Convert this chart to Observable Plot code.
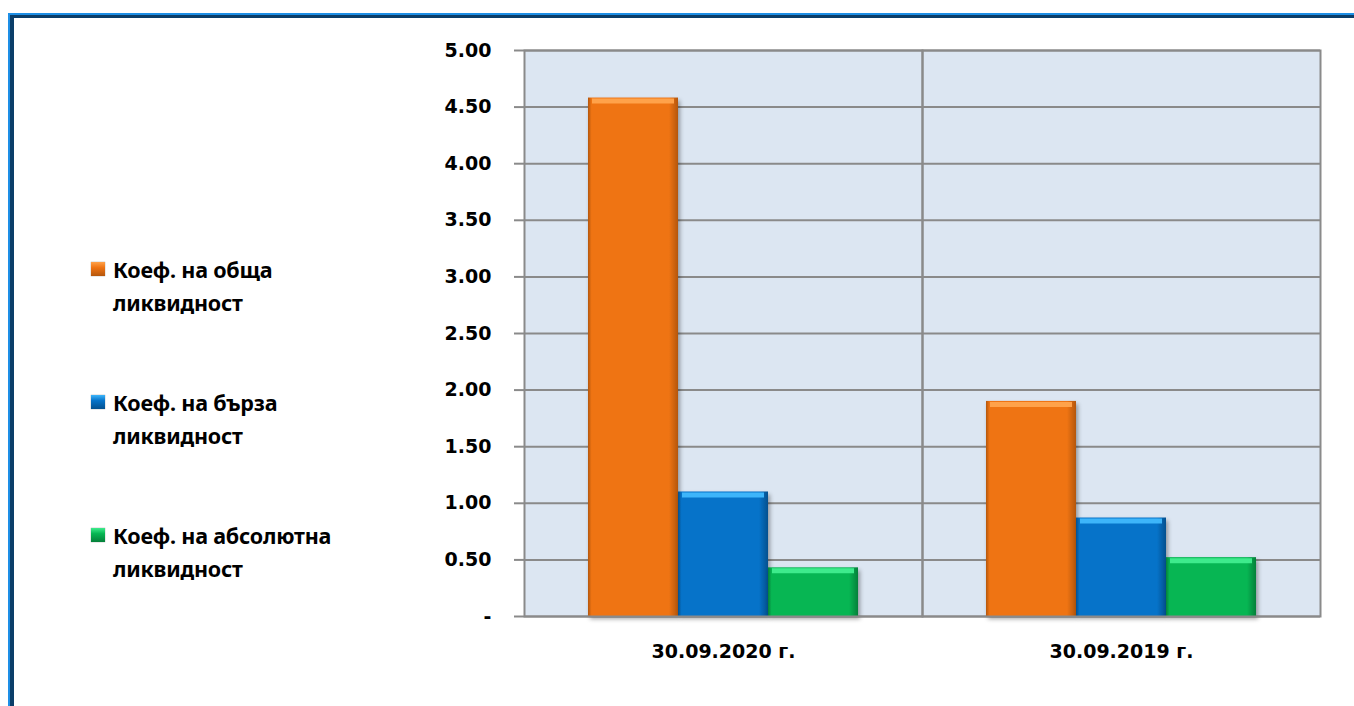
<!DOCTYPE html>
<html>
<head>
<meta charset="utf-8">
<script src="https://cdn.jsdelivr.net/npm/d3@7"></script>
<script src="https://cdn.jsdelivr.net/npm/@observablehq/plot@0.6"></script>
<style>
  html, body { margin: 0; padding: 0; background: #fff; }
  #wrap { position: relative; width: 1354px; height: 706px; overflow: hidden; }
  #border { position: absolute; left: 8px; top: 13px; width: 1400px; height: 800px;
    border-left: 2px solid #1E8FE6; border-top: 2px solid #1E8FE6; }
  #border > div { width: 100%; height: 100%; border-left: 4px solid #0B3E69; border-top: 3px solid #0B3E69; }
  #chart { position: absolute; left: 0; top: 0; }
  #legend { position: absolute; left: 91px; top: 0; font-family: "Noto Sans", sans-serif; font-weight: 700; font-size: 21.5px; color: #000; }
  .item { position: absolute; left: 0; display: flex; align-items: flex-start; width: 300px; }
  .sw { width: 14px; height: 14px; margin-top: 9px; margin-right: 8px; flex: none; box-shadow: 0 0 1px rgba(0,0,0,0.5); }
  .lbl { width: 260px; line-height: 33px; letter-spacing: -0.2px; }
</style>
</head>
<body>
<div id="wrap">
  <div id="border"><div></div></div>
  <div id="chart"></div>
  <div id="legend"></div>
</div>
<script>
const dates = ["30.09.2020 г.", "30.09.2019 г."];
const series = ["Коеф. на обща ликвидност", "Коеф. на бърза ликвидност", "Коеф. на абсолютна ликвидност"];
const values2020 = [4.58, 1.10, 0.43];
const values2019 = [1.90, 0.87, 0.52];
const yTicks = [0, 0.5, 1, 1.5, 2, 2.5, 3, 3.5, 4, 4.5, 5];
const baseColors = ["#EF7413", "#0673C9", "#07B653"];
const darkColors = ["#B4560C", "#04508E", "#05803A"];
const lightColors = ["#FFA24A", "#3DB5FA", "#3EEB8C"];
const gradIds = ["gOrange", "gBlue", "gGreen"];

const data = [];
dates.forEach((d, i) => {
  const vals = i === 0 ? values2020 : values2019;
  series.forEach((s, j) => data.push({date: d, series: s, value: vals[j]}));
});

const grid = "#8a8a8a";

const chart = Plot.plot({
  width: 1354,
  height: 706,
  marginLeft: 523,
  marginRight: 34,
  marginTop: 50,
  marginBottom: 90,
  style: {fontFamily: "DejaVu Sans", fontWeight: "bold", fontSize: "19px", color: "#000", background: "transparent"},
  fx: {domain: dates, padding: 0, label: null, axis: null},
  x: {domain: series, paddingInner: 0, paddingOuter: 0.7, axis: null},
  y: {domain: [0, 5], label: null},
  color: {domain: series, range: gradIds.map(id => `url(#${id})`)},
  marks: [
    Plot.frame({fill: "#DCE6F2", stroke: null}),
    Plot.gridY(yTicks, {stroke: grid, strokeOpacity: 1, strokeWidth: 2}),
    Plot.barY(data, {fx: "date", x: "series", y: "value", fill: "series"}),
    Plot.tickY(data, {fx: "date", x: "series", y: "value", stroke: d => lightColors[series.indexOf(d.series)], strokeWidth: 5, dy: 3, inset: 4}),
    Plot.frame({stroke: grid, strokeWidth: 2}),
    Plot.axisY({ticks: yTicks, tickFormat: d => d === 0 ? "-" : d3.format(".2f")(d), tickSize: 10, tickPadding: 23, stroke: grid, strokeWidth: 2, fill: "#000", label: null}),
    Plot.axisFx({anchor: "bottom", tickSize: 0, tickPadding: 28, label: null, fill: "#000"})
  ]
});

// gradient definitions for bars
const svg = d3.select(chart);
const defs = svg.insert("defs", ":first-child");
gradIds.forEach((id, i) => {
  const g = defs.append("linearGradient").attr("id", id).attr("x1", 0).attr("x2", 1).attr("y1", 0).attr("y2", 0);
  g.append("stop").attr("offset", 0).attr("stop-color", darkColors[i]);
  g.append("stop").attr("offset", 0.04).attr("stop-color", baseColors[i]);
  g.append("stop").attr("offset", 0.9).attr("stop-color", baseColors[i]);
  g.append("stop").attr("offset", 1).attr("stop-color", darkColors[i]);
});
svg.selectAll("g[aria-label='bar'] rect").style("filter", "drop-shadow(2px 3px 2px rgba(0,0,0,0.35))");

document.getElementById("chart").appendChild(chart);

// legend
const legend = d3.select("#legend");
const legendTops = [253, 386, 519];
series.forEach((s, i) => {
  const it = legend.append("div").attr("class", "item").style("top", legendTops[i] + "px");
  it.append("div").attr("class", "sw")
    .style("background", `linear-gradient(to bottom, ${lightColors[i]}, ${baseColors[i]} 40%, ${darkColors[i]})`);
  it.append("div").attr("class", "lbl").text(s);
});
</script>
</body>
</html>
